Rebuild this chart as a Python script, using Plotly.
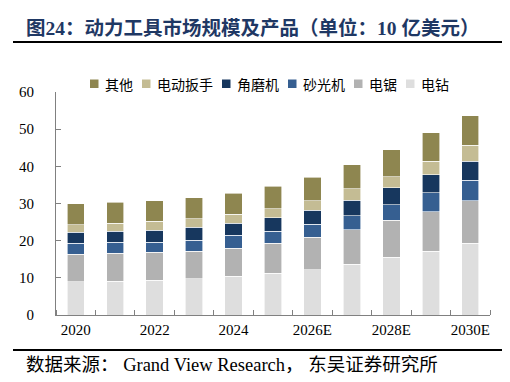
import plotly.graph_objects as go

years = ["2020", "2021", "2022", "2023", "2024", "2025E", "2026E", "2027E", "2028E", "2029E", "2030E"]
drill = [8.9, 9.1, 9.4, 9.7, 10.4, 11.3, 12.2, 13.7, 15.5, 17.1, 19.3]
saw = [7.4, 7.5, 7.5, 7.4, 7.5, 8.0, 8.7, 9.3, 10.0, 10.7, 11.4]
sander = [3.0, 3.0, 2.7, 3.0, 3.5, 3.2, 3.5, 3.7, 4.2, 5.1, 5.6]
grinder = [2.9, 2.9, 3.2, 3.5, 3.3, 3.6, 3.8, 4.2, 4.6, 4.9, 5.1]
wrench = [2.1, 2.2, 2.4, 2.3, 2.4, 2.5, 2.6, 3.1, 2.9, 3.6, 4.3]
other = [5.7, 5.7, 5.5, 5.6, 5.6, 6.1, 6.3, 6.4, 7.3, 7.7, 7.9]

series_names = ["电钻", "电锯", "砂光机", "角磨机", "电动扳手", "其他"]
series_values = [drill, saw, sander, grinder, wrench, other]
series_colors = ["#DEDEDE", "#B2B2B2", "#365F91", "#17375E", "#C4BC94", "#8E8650"]

title_text = "图24：动力工具市场规模及产品（单位：10 亿美元）"
source_text = "数据来源： Grand View Research， 东吴证券研究所"

W, H = 510, 382
L, R, T, B = 48, 28, 84, 75
pw, ph = W - L - R, H - T - B

def px(x):
    return (x - L) / pw

def py(y):
    return (H - B - y) / ph

xpos = list(range(len(years)))
fig = go.Figure()
for name, vals, col in zip(series_names, series_values, series_colors):
    fig.add_trace(go.Bar(x=xpos, y=vals, name=name, marker_color=col,
                         marker_line=dict(color="white", width=0.6), width=0.44,
                         showlegend=False))

serif = "Liberation Serif, Noto Sans CJK SC"
fig.update_layout(
    width=W, height=H, barmode="stack",
    margin=dict(l=L, r=R, t=T, b=B),
    plot_bgcolor="white", paper_bgcolor="white",
    font=dict(family=serif, color="#000000", size=15),
    xaxis=dict(range=[-0.5, len(years) - 0.5], tickvals=xpos[::2], ticktext=years[::2],
               ticks="", showgrid=False, zeroline=False, showline=True,
               linecolor="#808080", linewidth=1, ticklabelstandoff=1,
               tickfont=dict(family=serif, size=15, color="#000000"),
               minor=dict(tick0=-0.5, dtick=1, ticks="inside", ticklen=5,
                          tickcolor="#808080", tickwidth=1, showgrid=False)),
    yaxis=dict(range=[0, 60], dtick=10, ticks="inside", ticklen=5, tickcolor="#808080",
               showgrid=False, zeroline=False, showline=True, linecolor="#808080",
               linewidth=1, ticklabelstandoff=18,
               tickfont=dict(family=serif, size=15, color="#000000")),
)

# title and source
fig.add_annotation(text="<b>" + title_text + "</b>", xref="paper", yref="paper",
                   x=px(16), y=py(20), xanchor="left", yanchor="middle", showarrow=False,
                   font=dict(family="Liberation Serif, Noto Sans CJK SC", size=19.5, color="#1F3864"))
fig.add_annotation(text=source_text, xref="paper", yref="paper",
                   x=px(16), y=py(357), xanchor="left", yanchor="middle", showarrow=False,
                   font=dict(family=serif, size=18.5, color="#000000"))
fig.add_shape(type="line", xref="paper", yref="paper", x0=px(5), x1=px(505), y0=py(34), y1=py(34),
              line=dict(color="#000000", width=2))
fig.add_shape(type="line", xref="paper", yref="paper", x0=px(5), x1=px(505), y0=py(342), y1=py(342),
              line=dict(color="#000000", width=2))

# legend (reverse order, horizontal)
start = 82
ly = 76
for name, col in reversed(list(zip(series_names, series_colors))):
    fig.add_shape(type="rect", xref="paper", yref="paper",
                  x0=px(start), x1=px(start + 8.5), y0=py(ly - 4.5), y1=py(ly + 4),
                  fillcolor=col, line=dict(width=0))
    fig.add_annotation(text=name, xref="paper", yref="paper", x=px(start + 13), y=py(ly),
                       xanchor="left", yanchor="middle", showarrow=False,
                       font=dict(family="Noto Sans CJK SC", size=14, color="#000000"))
    start += 15 + 14 * len(name) + 9

fig.write_html("out.html")
